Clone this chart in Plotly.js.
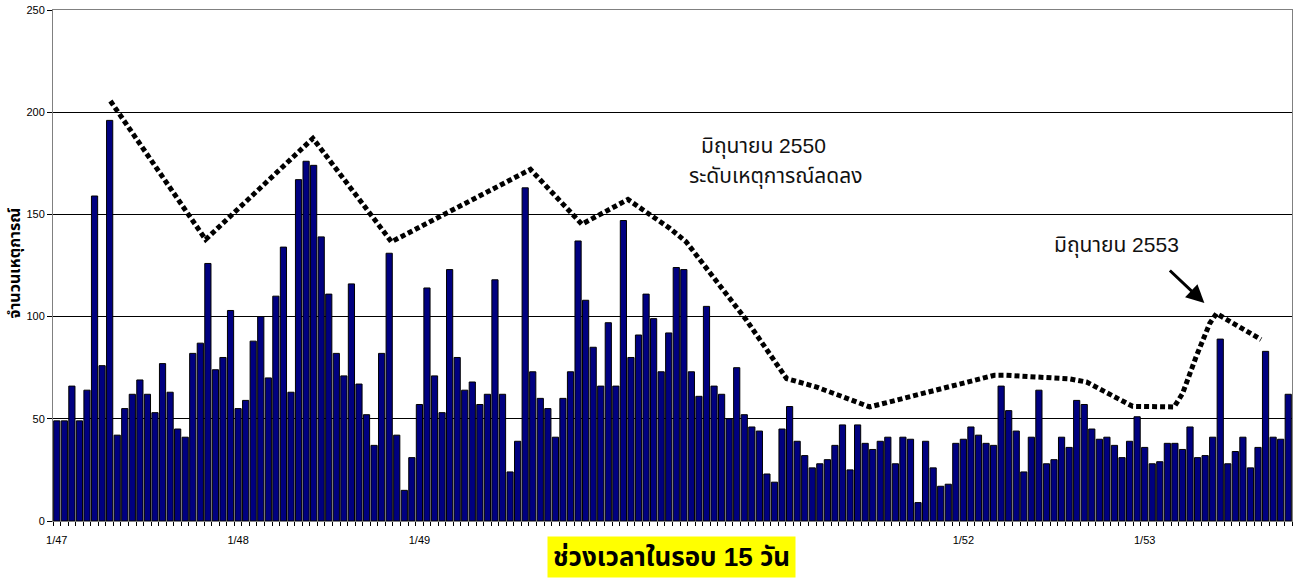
<!DOCTYPE html>
<html>
<head>
<meta charset="utf-8">
<script src="https://cdn.plot.ly/plotly-3.0.1.min.js"></script>
<style>
html,body{margin:0;padding:0;background:#fff;}
#chart{width:1300px;height:581px;}
</style>
</head>
<body>
<div id="chart"></div>
<script>
// Incident counts per 15-day period, starting 1/47
const counts = [
  49,49,66,49,64,159,76,196,42,55,62,69,62,53,77,63,45,41,82,87,126,74,80,103,
  55,59,88,100,70,110,134,63,167,176,174,139,111,82,71,116,67,52,37,82,131,42,15,31,
  57,114,71,53,123,80,64,68,57,62,118,62,24,39,163,73,60,55,41,60,73,137,108,85,
  66,97,66,147,80,91,111,99,73,92,124,123,73,61,105,66,62,50,75,52,46,44,23,19,
  45,56,39,32,26,28,30,37,47,25,47,38,35,39,41,28,41,40,9,39,26,17,18,38,
  40,46,42,38,37,66,54,44,24,41,64,28,30,41,36,59,57,45,40,41,37,31,39,51,
  36,28,29,38,38,35,46,31,32,41,89,28,34,41,26,36,83,41,40,62
];
// period index of the labelled year starts and their labels
const tickPos = [0, 24, 48, 120, 144];
const tickLabels = ['1/47', '1/48', '1/49', '1/52', '1/53'];

// hand-drawn dotted trend outline (period position, level)
const trendX = [7.1, 19.7, 33.9, 44.3, 62.7, 69.5, 75.6, 81.1, 83.3, 91.3, 96.6, 100.5, 104.1, 107.6, 117.7, 124.1, 125.7, 134.1, 136.3, 139.3, 142.4, 147.9, 149.0, 150.8, 152.6, 153.5, 159.4];
const trendY = [205.5, 137.7, 187.2, 136.6, 172, 145.2, 157.3, 143.3, 136.6, 98.2, 69.7, 65.6, 60.7, 55.8, 65.3, 71.3, 71.3, 69.5, 68, 62.3, 56.1, 55.8, 62.3, 80.3, 96.6, 101.5, 88.8];

const idx = counts.map((_, i) => i);
const thaiFont = 'Arial, "Noto Sans Thai", Loma, Garuda, Tahoma, sans-serif';

const traces = [
  {
    type: 'bar', x: idx, y: counts,
    marker: {color: '#000080', line: {color: '#000000', width: 1}},
    hoverinfo: 'y'
  },
  {
    type: 'scatter', mode: 'lines', x: trendX, y: trendY,
    line: {color: '#000000', width: 5, dash: '5px,3px'},
    hoverinfo: 'skip'
  }
];

const layout = {
  width: 1300, height: 581,
  margin: {l: 53, r: 8, t: 10, b: 60},
  paper_bgcolor: '#ffffff', plot_bgcolor: '#ffffff',
  showlegend: false,
  bargap: 0.18,
  font: {family: 'Arial, "Liberation Sans", sans-serif', color: '#000', size: 11},
  xaxis: {
    type: 'linear', range: [-0.5, 163.5],
    tickmode: 'array', tickvals: tickPos, ticktext: tickLabels,
    ticks: 'outside', ticklen: 9, tickcolor: 'rgba(0,0,0,0)',
    showgrid: false, zeroline: false,
    showline: true, linecolor: '#808080', linewidth: 1, mirror: true,
    tickfont: {size: 11, color: '#000'},
    minor: {ticks: 'outside', tickmode: 'linear', tick0: -0.5, dtick: 1, ticklen: 4, tickcolor: '#000', tickwidth: 1, showgrid: false}
  },
  yaxis: {
    range: [0, 250], dtick: 50, tick0: 0,
    showgrid: true, gridcolor: '#000', gridwidth: 1,
    zeroline: false,
    showline: true, linecolor: '#808080', linewidth: 1, mirror: true,
    ticks: 'outside', ticklen: 5, tickcolor: '#000',
    tickfont: {size: 11, color: '#000'}
  },
  annotations: [
    {xref: 'paper', yref: 'paper', x: -0.031, y: 0.505, text: '<b>จำนวนเหตุการณ์</b>',
     textangle: -90, showarrow: false, font: {family: thaiFont, size: 16, color: '#000'},
     xanchor: 'center', yanchor: 'middle'},
    {xref: 'paper', yref: 'paper', x: (671 - 53) / 1239, y: -(556.5 - 521) / 511,
     text: '<b>ช่วงเวลาในรอบ 15 วัน</b>', showarrow: false,
     font: {family: thaiFont, size: 26, color: '#000'},
     bgcolor: '#ffff00', borderpad: 5, xanchor: 'center', yanchor: 'middle'},
    {x: 93.6, y: 183.4, text: 'มิถุนายน 2550', showarrow: false,
     font: {family: thaiFont, size: 21, color: '#111'}},
    {x: 95.2, y: 168.5, text: 'ระดับเหตุการณ์ลดลง', showarrow: false,
     font: {family: thaiFont, size: 21, color: '#111'}},
    {x: 140.3, y: 135, text: 'มิถุนายน 2553', showarrow: false,
     font: {family: thaiFont, size: 21, color: '#111'}},
    {x: 151.9, y: 106.6, text: '', showarrow: true, ax: -36, ay: -34,
     arrowhead: 2, arrowsize: 1.2, arrowwidth: 3, arrowcolor: '#000', standoff: 0}
  ]
};

Plotly.newPlot('chart', traces, layout, {displayModeBar: false, staticPlot: true});
</script>
</body>
</html>
